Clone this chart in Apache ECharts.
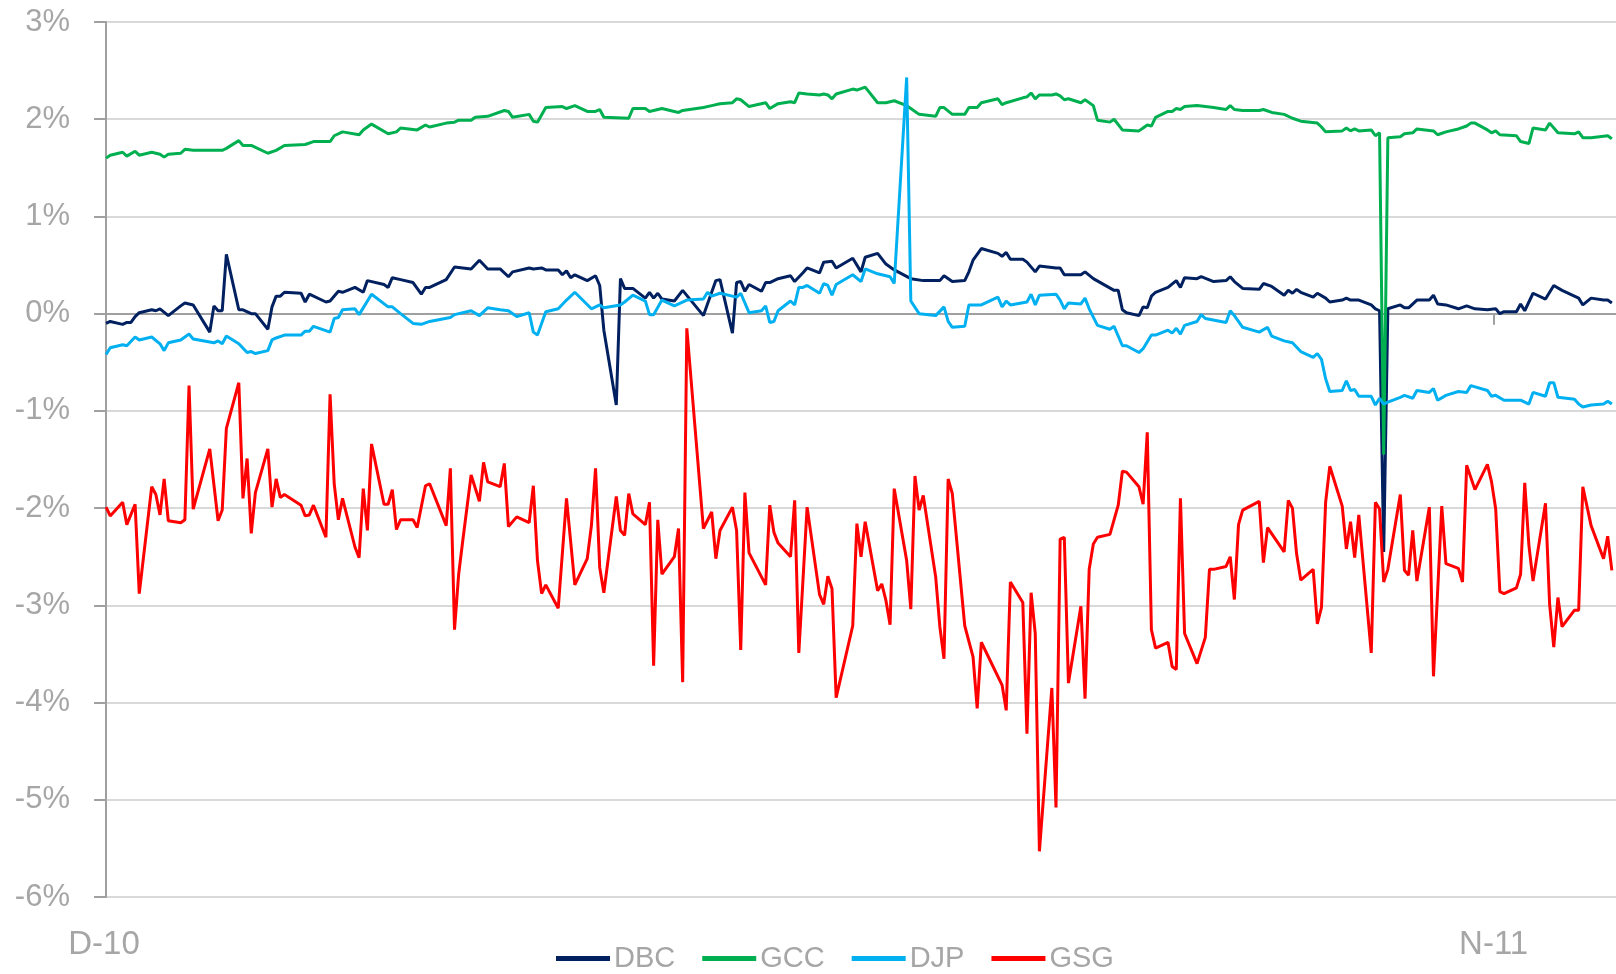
<!DOCTYPE html>
<html>
<head>
<meta charset="utf-8">
<script src="https://cdn.jsdelivr.net/npm/echarts@6/dist/echarts.min.js"></script>
<style>
  html, body { margin: 0; padding: 0; background: #fff; }
  #chart { width: 1616px; height: 974px; }
</style>
</head>
<body>
<div id="chart"></div>
<script>
// days counted from the start of the axis (D-10), values in %
const dbcDays = [0,1,4,5,6,7,8,11,12,13,15,18,19,21,25,26,27,28,29,32,33,35,36,39,40,41,42,43,47,48,49,53,54,56,57,60,62,63,67,68,69,71,74,76,77,78,82,84,88,90,92,95,97,98,102,103,105,106,109,110,111,112,113,116,118,119,120,123,124,125,127,130,131,132,133,134,137,139,144,147,148,151,152,153,154,155,158,159,160,162,165,166,168,169,172,173,175,176,180,182,183,186,188,190,194,197,201,202,204,207,208,209,211,215,216,217,218,221,222,224,225,229,230,231,235,236,238,243,244,245,246,249,250,251,252,253,256,258,259,260,263,264,267,270,271,272,274,278,279,281,284,285,286,287,288,291,292,294,295,298,299,300,302,305,306,307,308,309,312,313,314,316,319,320,321,323,326,328,330,333,335,336,337,340,341,342,344,347,349,351,355,356,358,361,362,363];
const dbcValues = [-0.10,-0.08,-0.11,-0.09,-0.09,-0.03,0.01,0.04,0.03,0.05,-0.02,0.08,0.11,0.09,-0.19,0.08,0.03,0.03,0.61,0.04,0.04,0.00,0.00,-0.16,0.07,0.18,0.18,0.22,0.21,0.12,0.20,0.12,0.13,0.23,0.22,0.27,0.22,0.34,0.30,0.27,0.37,0.35,0.32,0.20,0.27,0.27,0.35,0.48,0.46,0.55,0.46,0.46,0.38,0.43,0.47,0.46,0.47,0.45,0.45,0.40,0.44,0.37,0.40,0.34,0.39,0.29,-0.17,-0.94,0.36,0.26,0.26,0.16,0.22,0.16,0.21,0.15,0.13,0.24,-0.02,0.34,0.35,-0.20,0.32,0.33,0.23,0.30,0.23,0.32,0.32,0.36,0.39,0.33,0.42,0.47,0.42,0.53,0.54,0.47,0.57,0.43,0.58,0.62,0.51,0.45,0.36,0.34,0.34,0.39,0.33,0.34,0.43,0.55,0.67,0.62,0.59,0.63,0.56,0.56,0.53,0.43,0.49,0.47,0.47,0.40,0.40,0.43,0.36,0.24,0.24,0.04,0.01,-0.02,0.07,0.06,0.18,0.22,0.27,0.34,0.27,0.37,0.36,0.38,0.33,0.34,0.38,0.33,0.26,0.25,0.31,0.28,0.19,0.24,0.21,0.25,0.22,0.17,0.21,0.16,0.12,0.14,0.16,0.14,0.14,0.09,0.05,0.03,-2.45,0.05,0.09,0.06,0.06,0.14,0.14,0.19,0.10,0.09,0.05,0.08,0.05,0.04,0.05,0.00,0.02,0.02,0.10,0.03,0.21,0.15,0.29,0.24,0.16,0.09,0.16,0.14,0.14,0.11];

const gccDays = [0,1,4,5,7,8,11,13,14,15,18,19,21,28,29,32,33,35,39,41,43,48,50,54,55,57,61,62,64,68,70,71,75,77,78,82,84,85,88,89,92,96,97,98,102,103,104,106,110,111,113,116,118,119,120,126,127,130,131,134,137,138,139,144,146,148,151,152,153,155,159,160,162,165,166,167,169,172,173,174,175,176,180,181,183,186,188,190,193,194,196,200,201,202,204,207,208,210,211,215,216,217,221,222,223,224,225,228,229,230,231,232,235,236,238,239,242,243,245,249,250,251,252,253,256,257,258,259,260,263,267,270,271,272,274,278,279,281,284,286,288,292,293,294,298,299,300,301,302,305,306,307,308,309,312,313,315,316,320,321,323,326,328,329,330,333,334,335,336,340,341,343,344,347,348,350,354,355,356,358,362,363];
const gccValues = [1.60,1.63,1.66,1.62,1.67,1.63,1.66,1.64,1.61,1.64,1.65,1.69,1.68,1.68,1.70,1.78,1.73,1.73,1.65,1.68,1.73,1.74,1.77,1.77,1.83,1.87,1.84,1.89,1.95,1.85,1.87,1.91,1.89,1.94,1.92,1.96,1.97,1.99,1.99,2.02,2.03,2.09,2.08,2.02,2.05,1.98,1.97,2.12,2.13,2.11,2.14,2.08,2.08,2.10,2.02,2.01,2.11,2.11,2.08,2.11,2.08,2.07,2.09,2.12,2.14,2.16,2.17,2.21,2.20,2.13,2.17,2.11,2.16,2.18,2.17,2.27,2.26,2.25,2.26,2.25,2.21,2.26,2.31,2.30,2.33,2.17,2.17,2.19,2.14,2.11,2.05,2.03,2.12,2.12,2.05,2.05,2.12,2.12,2.17,2.21,2.15,2.17,2.22,2.23,2.27,2.21,2.25,2.25,2.26,2.24,2.20,2.21,2.17,2.20,2.14,1.99,1.97,2.00,1.89,1.88,1.91,1.94,1.93,2.02,2.08,2.08,2.11,2.10,2.13,2.14,2.12,2.10,2.14,2.10,2.09,2.09,2.10,2.07,2.05,2.01,1.98,1.96,1.92,1.87,1.88,1.91,1.88,1.90,1.88,1.89,1.83,1.86,-1.45,1.81,1.82,1.85,1.86,1.90,1.88,1.84,1.87,1.90,1.93,1.96,1.96,1.89,1.86,1.88,1.84,1.83,1.77,1.75,1.91,1.89,1.96,1.86,1.85,1.87,1.81,1.81,1.83,1.80];

const djpDays = [0,1,4,5,7,8,11,13,14,15,18,20,21,26,27,28,29,32,34,35,36,39,40,41,43,47,48,49,50,54,55,56,57,60,61,64,68,69,71,74,76,78,83,84,88,90,92,95,97,99,102,103,104,106,109,111,113,117,119,120,124,125,127,130,131,132,134,137,140,144,145,146,148,152,153,155,158,159,160,161,162,165,166,167,168,169,172,173,174,175,176,180,182,183,186,189,190,193,194,196,200,202,203,204,207,208,210,211,215,216,217,218,222,223,224,225,229,230,231,232,235,236,237,239,242,243,245,246,249,250,252,253,256,257,258,259,260,263,264,265,270,271,272,274,278,280,281,284,286,288,291,292,293,294,295,298,299,300,301,302,305,306,307,308,309,312,313,315,316,319,320,321,323,326,328,329,333,334,335,337,341,343,344,347,348,349,350,354,355,356,358,361,362,363];
const djpValues = [-0.42,-0.35,-0.32,-0.33,-0.24,-0.27,-0.24,-0.31,-0.38,-0.30,-0.27,-0.21,-0.26,-0.30,-0.28,-0.31,-0.23,-0.31,-0.40,-0.39,-0.41,-0.38,-0.27,-0.25,-0.22,-0.22,-0.18,-0.18,-0.13,-0.19,-0.05,-0.04,0.04,0.05,-0.01,0.20,0.07,0.07,0.00,-0.10,-0.11,-0.08,-0.04,-0.01,0.03,-0.02,0.06,0.04,0.03,-0.03,0.01,-0.19,-0.22,0.02,0.05,0.14,0.22,0.05,0.09,0.06,0.09,0.12,0.19,0.13,-0.01,-0.01,0.14,0.08,0.14,0.15,0.22,0.18,0.21,0.17,0.21,0.01,0.03,0.08,-0.09,-0.08,0.03,0.13,0.09,0.27,0.27,0.29,0.21,0.31,0.29,0.19,0.30,0.40,0.33,0.46,0.41,0.38,0.31,2.43,0.13,0.00,-0.02,0.07,-0.08,-0.14,-0.13,0.09,0.09,0.09,0.17,0.07,0.13,0.09,0.12,0.20,0.09,0.19,0.20,0.14,0.05,0.11,0.10,0.16,0.05,-0.12,-0.16,-0.13,-0.33,-0.33,-0.40,-0.36,-0.22,-0.22,-0.17,-0.20,-0.15,-0.21,-0.12,-0.08,-0.01,-0.05,-0.09,0.03,-0.02,-0.14,-0.19,-0.14,-0.23,-0.28,-0.30,-0.39,-0.45,-0.41,-0.47,-0.67,-0.80,-0.79,-0.69,-0.79,-0.78,-0.85,-0.85,-0.94,-0.87,-0.93,-0.91,-0.86,-0.84,-0.87,-0.79,-0.81,-0.77,-0.89,-0.84,-0.80,-0.81,-0.74,-0.79,-0.85,-0.84,-0.89,-0.89,-0.93,-0.81,-0.85,-0.71,-0.71,-0.86,-0.88,-0.93,-0.96,-0.94,-0.93,-0.90,-0.93];

const gsgDays = [0,1,4,5,7,8,11,12,13,14,15,18,19,20,21,25,27,28,29,32,33,34,35,36,39,40,41,42,43,47,48,49,50,53,54,55,56,57,60,61,62,63,64,67,68,69,70,71,74,75,77,78,82,83,84,85,86,88,90,91,92,95,96,97,99,102,103,104,105,106,109,111,113,116,117,118,119,120,123,124,125,126,127,130,131,132,133,134,137,138,139,140,144,146,147,148,151,152,153,154,155,159,160,161,162,165,166,167,169,172,173,174,175,176,180,181,182,183,186,187,188,189,190,193,194,195,196,197,200,201,202,203,204,207,209,210,211,216,217,218,221,222,223,224,225,228,229,230,231,232,235,236,237,238,239,242,244,245,246,249,250,251,252,253,256,257,258,259,260,263,265,266,267,270,271,272,273,274,278,279,280,284,285,286,287,288,291,292,293,294,295,298,299,300,301,302,305,306,307,308,309,312,313,314,315,316,319,320,322,323,326,327,328,330,333,334,335,336,337,340,341,342,343,344,347,348,349,350,351,354,355,356,358,361,362,363];
const gsgValues = [-1.99,-2.08,-1.94,-2.17,-1.96,-2.88,-1.78,-1.86,-2.07,-1.70,-2.13,-2.15,-2.12,-0.74,-2.01,-1.39,-2.13,-2.02,-1.18,-0.71,-1.90,-1.49,-2.26,-1.84,-1.39,-1.99,-1.70,-1.89,-1.86,-1.97,-2.08,-2.07,-1.97,-2.30,-0.83,-1.75,-2.12,-1.90,-2.40,-2.51,-1.80,-2.23,-1.34,-1.96,-1.96,-1.81,-2.22,-2.12,-2.12,-2.20,-1.77,-1.75,-2.18,-1.59,-3.25,-2.68,-2.33,-1.66,-1.93,-1.53,-1.73,-1.78,-1.54,-2.19,-2.09,-2.15,-1.77,-2.54,-2.88,-2.79,-3.03,-1.90,-2.79,-2.52,-2.18,-1.59,-2.61,-2.87,-1.88,-2.23,-2.28,-1.85,-2.06,-2.17,-1.94,-3.62,-2.12,-2.68,-2.50,-2.21,-3.79,-0.15,-2.21,-2.04,-2.52,-2.23,-1.99,-2.23,-3.46,-1.84,-2.46,-2.79,-1.97,-2.25,-2.36,-2.50,-1.92,-3.49,-1.99,-2.89,-2.99,-2.70,-2.83,-3.95,-3.21,-2.16,-2.50,-2.14,-2.85,-2.78,-2.95,-3.20,-1.80,-2.54,-3.04,-1.67,-2.02,-1.87,-2.71,-3.22,-3.55,-1.70,-1.85,-3.21,-3.53,-4.06,-3.38,-3.82,-4.08,-2.76,-2.97,-4.32,-2.87,-3.29,-5.53,-3.85,-5.08,-2.32,-2.30,-3.80,-3.01,-3.96,-2.63,-2.37,-2.30,-2.27,-1.97,-1.62,-1.63,-1.78,-1.96,-1.22,-3.25,-3.44,-3.38,-3.63,-3.66,-1.90,-3.29,-3.60,-3.33,-2.63,-2.63,-2.60,-2.50,-2.94,-2.17,-2.02,-1.93,-2.56,-2.20,-2.45,-1.92,-2.00,-2.47,-2.74,-2.63,-3.19,-3.02,-1.94,-1.57,-1.98,-2.42,-2.14,-2.51,-2.07,-3.49,-1.94,-2.01,-2.76,-2.63,-1.86,-2.64,-2.69,-2.23,-2.75,-1.99,-3.73,-1.98,-2.57,-2.62,-2.76,-1.56,-1.81,-1.55,-1.73,-2.01,-2.86,-2.88,-2.82,-2.68,-1.74,-2.38,-2.75,-1.95,-2.99,-3.43,-2.92,-3.22,-3.05,-3.05,-1.78,-2.18,-2.52,-2.29,-2.64];

const seriesNames = ['DBC', 'GCC', 'DJP', 'GSG'];
const seriesColors = ['#002060', '#00B050', '#00B0F0', '#FF0000'];
const tickDays = [-0.5, 334.5];
const tickLabels = ['D-10', 'N-11'];

const FONT = 'Liberation Sans';
const GREY_TEXT = '#a6a6a6';
const AXIS_GREY = '#a0a0a0';

const pairs = (days, vals) => days.map((d, i) => [d, vals[i]]);
const seriesData = [
  pairs(dbcDays, dbcValues),
  pairs(gccDays, gccValues),
  pairs(djpDays, djpValues),
  pairs(gsgDays, gsgValues),
];

const chart = echarts.init(document.getElementById('chart'));

const option = {
  animation: false,
  backgroundColor: '#fff',
  grid: { left: 104, right: 0, top: 22, bottom: 77 },
  legend: {
    left: 556,
    top: 944,
    padding: 0,
    icon: 'rect',
    itemWidth: 54,
    itemHeight: 5,
    itemGap: 27,
    textStyle: { color: GREY_TEXT, fontSize: 29, fontFamily: FONT, padding: [0, 0, 0, -1] },
    data: seriesNames,
  },
  xAxis: [
    {
      // the zero line with its tick
      type: 'value',
      min: -0.5,
      max: 364,
      axisLine: { show: true, onZero: true, lineStyle: { color: AXIS_GREY, width: 2 } },
      axisTick: { show: true, customValues: [tickDays[1]], length: 11, lineStyle: { color: AXIS_GREY, width: 2 } },
      axisLabel: { show: false },
      splitLine: { show: false },
    },
    {
      // labels sit at the bottom of the plot
      type: 'value',
      position: 'bottom',
      min: -0.5,
      max: 364,
      axisLine: { show: false, onZero: false },
      axisTick: { show: false },
      axisLabel: {
        customValues: tickDays,
        formatter: (v) => (v < 100 ? tickLabels[0] : tickLabels[1]),
        color: GREY_TEXT,
        fontSize: 33,
        fontFamily: FONT,
        margin: 31,
      },
      splitLine: { show: false },
    },
  ],
  yAxis: {
    type: 'value',
    min: -6,
    max: 3,
    interval: 1,
    axisLine: { show: true, lineStyle: { color: AXIS_GREY, width: 2 } },
    axisTick: { show: true, length: 12, lineStyle: { color: AXIS_GREY, width: 2 } },
    axisLabel: { formatter: '{value}%', color: GREY_TEXT, fontSize: 31, fontFamily: FONT, margin: 34 },
    splitLine: { lineStyle: { color: '#d9d9d9', width: 2 } },
  },
  series: seriesNames.map((name, i) => ({
    name,
    type: 'line',
    xAxisIndex: 0,
    data: seriesData[i],
    showSymbol: false,
    symbol: 'none',
    color: seriesColors[i],
    lineStyle: { width: 3, color: seriesColors[i] },
    itemStyle: { color: seriesColors[i] },
  })),
};

chart.setOption(option);
</script>
</body>
</html>
